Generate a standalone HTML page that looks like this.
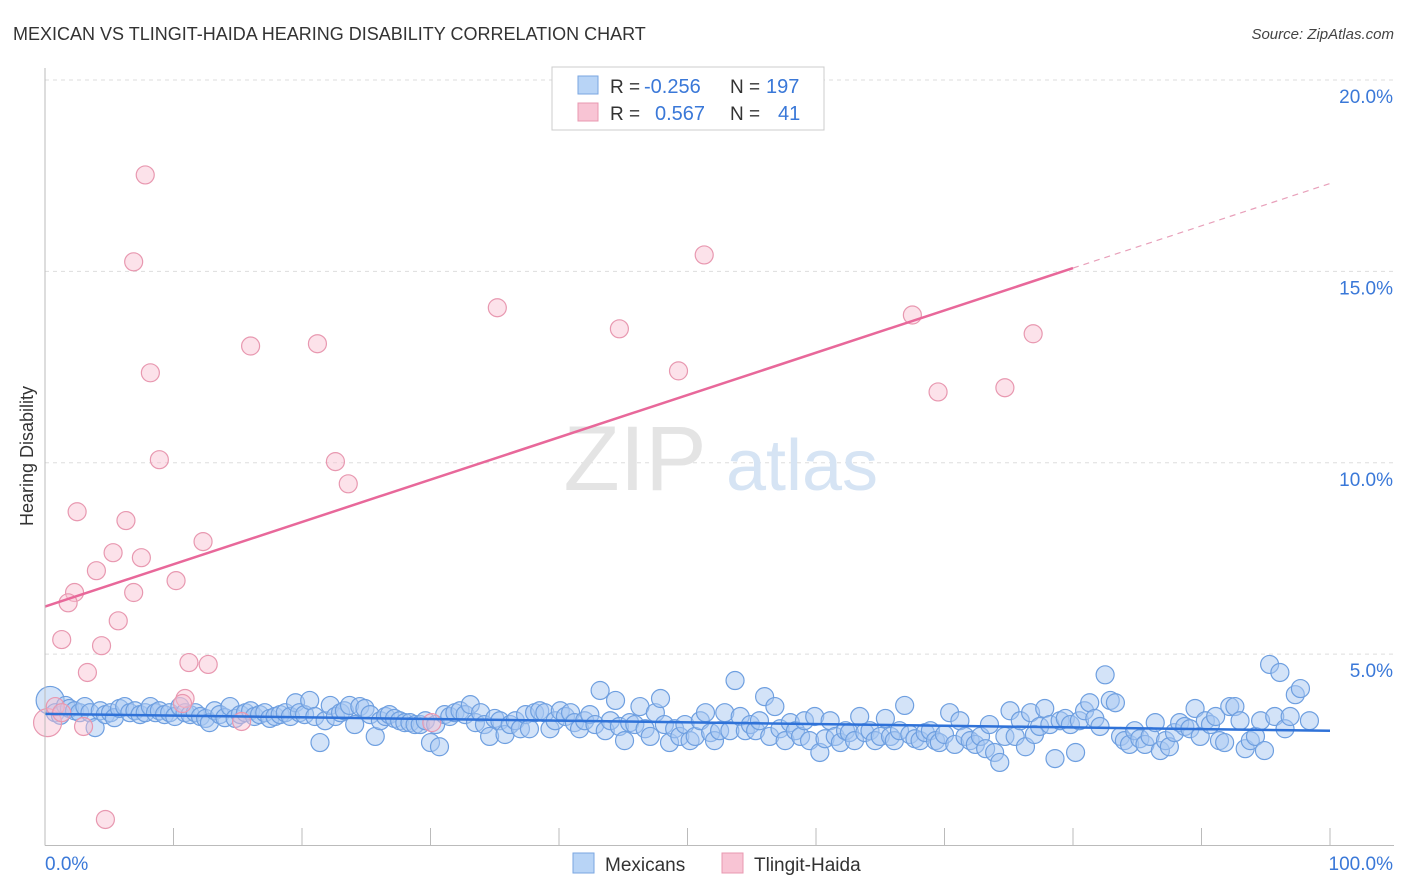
<!DOCTYPE html>
<html><head><meta charset="utf-8">
<style>
html,body{margin:0;padding:0;background:#fff;width:1406px;height:892px;overflow:hidden;font-family:"Liberation Sans",sans-serif;}
svg text{font-family:"Liberation Sans",sans-serif;}
</style></head>
<body>
<svg id="chart" width="1406" height="892" viewBox="0 0 1406 892" xmlns="http://www.w3.org/2000/svg">
<text x="13" y="40" font-size="18" fill="#333">MEXICAN VS TLINGIT-HAIDA HEARING DISABILITY CORRELATION CHART</text>
<text x="1394" y="39" font-size="15" fill="#444" text-anchor="end" font-style="italic">Source: ZipAtlas.com</text>
<g id="grid"></g>
<g>
<text x="635" y="490" font-size="92" fill="#e4e4e4" text-anchor="middle" font-family="Liberation Serif, serif">ZIP</text>
<text x="802" y="490" font-size="72" fill="#d6e4f4" text-anchor="middle">atlas</text>
</g>
<g id="pts"></g>
<g id="lines"></g>
<g id="axes"></g>
<text transform="translate(33,456) rotate(-90)" font-size="18" fill="#333" text-anchor="middle">Hearing Disability</text>
<g>
<rect x="552" y="67" width="272" height="63" fill="#fff" stroke="#ccc"/>
<rect x="578" y="76" width="20" height="18" fill="#b8d4f6" stroke="#7aa6e0"/>
<rect x="578" y="103" width="20" height="18" fill="#f8c4d4" stroke="#e898b0"/>
<text x="610" y="93" font-size="19" fill="#333">R = </text><text x="644" y="93" font-size="20" fill="#3a78d8">-0.256</text>
<text x="730" y="93" font-size="19" fill="#333">N = </text><text x="766" y="93" font-size="20" fill="#3a78d8">197</text>
<text x="610" y="120" font-size="19" fill="#333">R = </text><text x="655" y="120" font-size="20" fill="#3a78d8">0.567</text>
<text x="730" y="120" font-size="19" fill="#333">N = </text><text x="778" y="120" font-size="20" fill="#3a78d8">41</text>
</g>
<g>
<rect x="573" y="853" width="21" height="20" fill="#b8d4f6" stroke="#7aa6e0"/>
<text x="605" y="871" font-size="19" fill="#333">Mexicans</text>
<rect x="722" y="853" width="21" height="20" fill="#f8c4d4" stroke="#e898b0"/>
<text x="754" y="871" font-size="19" fill="#333">Tlingit-Haida</text>
</g>
</svg>
<script>
const yTicks=[5,10,15,20];
const yTickLabels=["5.0%","10.0%","15.0%","20.0%"];
const xTickLabels=["0.0%","100.0%"];
const pinkX=[7.8,6.9,16.0,21.2,8.2,8.9,22.6,23.6,2.5,6.3,12.3,5.3,7.5,4.0,10.2,6.9,2.3,1.8,5.7,1.3,4.4,3.3,11.2,12.7,10.9,10.7,35.2,44.7,51.3,49.3,67.5,76.9,69.5,74.7,4.7,3.0,15.3,30.1,0.2,0.8,1.3];
const pinkY=[17.52,15.25,13.05,13.11,12.35,10.08,10.03,9.45,8.72,8.49,7.94,7.65,7.52,7.18,6.92,6.61,6.61,6.34,5.87,5.38,5.22,4.52,4.78,4.73,3.84,3.71,14.05,13.5,15.43,12.4,13.86,13.37,11.85,11.96,0.68,3.11,3.24,3.21,3.21,3.63,3.47];
const blueX=[0.4,0.8,1.2,1.6,1.9,2.3,2.7,3.1,3.5,3.9,4.3,4.7,5.1,5.4,5.8,6.2,6.6,7.0,7.4,7.8,8.2,8.6,8.9,9.3,9.7,10.1,10.5,10.9,11.3,11.7,12.1,12.5,12.8,13.2,13.6,14.0,14.4,14.8,15.2,15.6,16.0,16.3,16.7,17.1,17.5,17.9,18.3,18.7,19.1,19.5,19.8,20.2,20.6,21.0,21.4,21.8,22.2,22.6,23.0,23.3,23.7,24.1,24.5,24.9,25.3,25.7,26.1,26.5,26.8,27.2,27.6,28.0,28.4,28.8,29.2,29.6,30.0,30.4,30.7,31.1,31.5,31.9,32.3,32.7,33.1,33.5,33.9,34.2,34.6,35.0,35.4,35.8,36.2,36.6,37.0,37.4,37.7,38.1,38.5,38.9,39.3,39.7,40.1,40.5,40.9,41.2,41.6,42.0,42.4,42.8,43.2,43.6,44.0,44.4,44.7,45.1,45.5,45.9,46.3,46.7,47.1,47.5,47.9,48.2,48.6,49.0,49.4,49.8,50.2,50.6,51.0,51.4,51.8,52.1,52.5,52.9,53.3,53.7,54.1,54.5,54.9,55.3,55.6,56.0,56.4,56.8,57.2,57.6,58.0,58.4,58.8,59.1,59.5,59.9,60.3,60.7,61.1,61.5,61.9,62.3,62.6,63.0,63.4,63.8,64.2,64.6,65.0,65.4,65.8,66.1,66.5,66.9,67.3,67.7,68.1,68.5,68.9,69.3,69.6,70.0,70.4,70.8,71.2,71.6,72.0,72.4,72.8,73.2,73.5,73.9,74.3,74.7,75.1,75.5,75.9,76.3,76.7,77.0,77.4,77.8,78.2,78.6,79.0,79.4,79.8,80.2,80.5,80.9,81.3,81.7,82.1,82.5,82.9,83.3,83.7,84.0,84.4,84.8,85.2,85.6,86.0,86.4,86.8,87.2,87.5,87.9,88.3,88.7,89.1,89.5,89.9,90.3,90.7,91.1,91.4,91.8,92.2,92.6,93.0,93.4,93.8,94.2,94.6,94.9,95.3,95.7,96.1,96.5,96.9,97.3,97.7,98.4];
const blueY=[3.79,3.47,3.40,3.66,3.58,3.52,3.47,3.63,3.47,3.08,3.52,3.42,3.47,3.34,3.58,3.63,3.47,3.52,3.42,3.47,3.63,3.47,3.52,3.42,3.47,3.37,3.63,3.47,3.42,3.47,3.37,3.32,3.21,3.52,3.42,3.34,3.63,3.32,3.42,3.47,3.52,3.37,3.42,3.47,3.32,3.37,3.42,3.47,3.37,3.73,3.47,3.42,3.79,3.37,2.69,3.26,3.66,3.37,3.47,3.52,3.66,3.16,3.63,3.58,3.42,2.85,3.26,3.37,3.42,3.32,3.26,3.21,3.21,3.16,3.16,3.26,2.69,3.16,2.58,3.42,3.37,3.47,3.52,3.42,3.68,3.21,3.47,3.16,2.85,3.32,3.26,2.90,3.16,3.26,3.05,3.42,3.05,3.47,3.52,3.47,3.05,3.26,3.52,3.37,3.47,3.21,3.05,3.26,3.42,3.16,4.05,3.0,3.26,3.79,3.11,2.74,3.21,3.16,3.63,3.05,2.85,3.47,3.84,3.16,2.69,3.05,2.85,3.16,2.74,2.85,3.26,3.47,2.95,2.74,3.0,3.47,3.0,4.31,3.37,3.0,3.16,3.0,3.26,3.89,2.85,3.63,3.05,2.74,3.21,3.0,2.85,3.26,2.74,3.37,2.43,2.79,3.26,2.85,2.69,3.0,2.95,2.74,3.37,2.95,3.0,2.74,2.85,3.32,2.85,2.74,3.0,3.66,2.90,2.79,2.74,2.95,3.0,2.74,2.69,2.90,3.47,2.64,3.26,2.85,2.74,2.64,2.85,2.53,3.16,2.43,2.17,2.85,3.52,2.85,3.26,2.58,3.47,2.90,3.11,3.58,3.16,2.27,3.26,3.32,3.16,2.43,3.26,3.52,3.73,3.32,3.11,4.46,3.79,3.73,2.85,2.74,2.64,3.0,2.79,2.64,2.85,3.21,2.48,2.74,2.58,2.95,3.21,3.11,3.05,3.58,2.85,3.26,3.16,3.37,2.74,2.69,3.63,3.63,3.26,2.53,2.74,2.85,3.26,2.48,4.73,3.37,4.52,3.05,3.37,3.94,4.10,3.26];

const NS="http://www.w3.org/2000/svg";
const X0=45,X1=1330,YB=845.5,YT=80;
function sx(v){return X0+(X1-X0)*v/100;}
function sy(v){return YB-(YB-YT)*v/20;}
function mk(tag,attrs,parent){const e=document.createElementNS(NS,tag);for(const k in attrs)e.setAttribute(k,attrs[k]);parent.appendChild(e);return e;}
const grid=document.getElementById('grid'),axes=document.getElementById('axes'),pts=document.getElementById('pts'),lines=document.getElementById('lines');
yTicks.forEach((t,i)=>{
  const l=mk('line',{x1:X0,x2:1394,y1:sy(t),y2:sy(t),stroke:'#ddd','stroke-dasharray':'4,4'},grid);
  
  
  const tx=mk('text',{x:1393,y:sy(t)+23,'font-size':19,fill:'#3a78d8','text-anchor':'end'},axes);
  tx.textContent=yTickLabels[i];
  
  
});
const ax=mk('line',{x1:X0,x2:1394,y1:YB,y2:YB,stroke:'#bbb'},axes);


const ay=mk('line',{x1:X0,x2:X0,y1:68,y2:YB,stroke:'#bbb'},axes);


for(let i=0;i<=10;i++){
  const t=mk('line',{x1:sx(i*10),x2:sx(i*10),y1:YB,y2:828,stroke:'#bbb'},axes);
  
  
}
const xl0=mk('text',{x:45,y:870,'font-size':19,fill:'#3a78d8'},axes);xl0.textContent=xTickLabels[0];


const xl1=mk('text',{x:1393,y:870,'font-size':19,fill:'#3a78d8','text-anchor':'end'},axes);xl1.textContent=xTickLabels[1];



function drawPts(xs,ys,fill,stroke,name){
  const n=Math.min(xs.length,ys.length);
  for(let i=0;i<n;i++){
    const r=(xs[i]<0.5)?14:9;
    const c=mk('circle',{cx:sx(xs[i]),cy:sy(ys[i]),r:r,fill:fill,stroke:stroke,'stroke-width':1.2},pts);
    
    
  }
}
drawPts(blueX,blueY,'rgba(168,200,242,0.5)','#6e9fe0','mexicans-point');
drawPts(pinkX,pinkY,'rgba(248,190,208,0.45)','#e898b0','tlingit-haida-point');

function fit(xs,ys){const n=Math.min(xs.length,ys.length);let mx=0,my=0;for(let i=0;i<n;i++){mx+=xs[i];my+=ys[i];}mx/=n;my/=n;let a=0,b=0;for(let i=0;i<n;i++){a+=(xs[i]-mx)*(ys[i]-my);b+=(xs[i]-mx)**2;}const s=a/b;return [s,my-s*mx];}
const [bs,bi]=fit(blueX,blueY);
const bl=mk('line',{x1:sx(0),y1:sy(bi),x2:sx(100),y2:sy(bi+bs*100),stroke:'#2f72d8','stroke-width':2.5},lines);


const [ps,pi]=fit(pinkX,pinkY);
const pl=mk('line',{x1:sx(0),y1:sy(pi),x2:sx(80),y2:sy(pi+ps*80),stroke:'#e8689a','stroke-width':2.5},lines);


const pd=mk('line',{x1:sx(80),y1:sy(pi+ps*80),x2:sx(100),y2:sy(pi+ps*100),stroke:'#e8a0ba','stroke-width':1.2,'stroke-dasharray':'6,5'},lines);


</script>
</body></html>
